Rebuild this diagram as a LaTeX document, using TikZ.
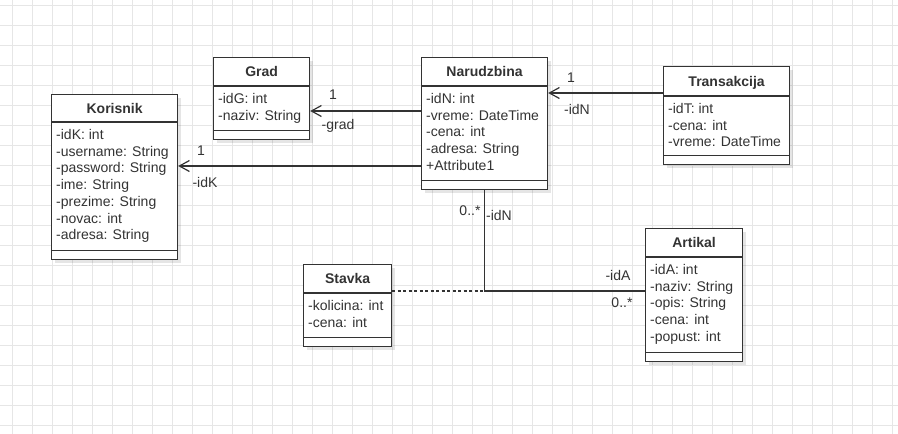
\documentclass[tikz,border=0pt]{standalone}
\usepackage{fontspec}
\setmainfont{Liberation Sans}
\usetikzlibrary{calc,arrows.meta,shadows}
\definecolor{ink}{HTML}{333333}
\definecolor{gridc}{HTML}{E6E6E6}
\tikzset{
  classbox/.style={draw=ink, line width=1.2pt, fill=white, anchor=north west, inner sep=0pt,
    drop shadow={shadow xshift=3pt, shadow yshift=-3pt, fill=black, opacity=0.10}},
  sepline/.style={draw=ink, line width=1.2pt},
  classtitle/.style={anchor=base, inner sep=0pt, text=ink, font=\fontsize{14}{17}\selectfont\bfseries},
  attr/.style={anchor=base west, inner sep=0pt, text=ink, font=\fontsize{14}{17}\selectfont},
  lbl/.style={inner sep=0pt, text=ink, font=\fontsize{14}{17}\selectfont},
  assoc/.style={draw=ink, line width=1.2pt, -{Straight Barb[length=10pt,width=11pt,line width=1.2pt]}},
  plainline/.style={draw=ink, line width=1.2pt},
  dashline/.style={draw=ink, line width=1.2pt, dash pattern=on 3pt off 2.5pt},
}
% #1 name, #2 x, #3 top y, #4 width, #5 height, #6 title height, #7 title, #8 attributes
\newcommand\umlclass[8]{%
  \node[classbox, minimum width=#4pt, minimum height=#5pt] (#1) at (#2,#3) {};
  \node[classtitle] (#1-t) at ($(#1.north)+(0,{#6/2+5})$) {#7};
  \draw[sepline] ($(#1.north west)+(0,#6)$) -- ($(#1.north east)+(0,#6)$);
  \draw[sepline] ($(#1.south west)+(0,-10)$) -- ($(#1.south east)+(0,-10)$);
  \foreach \a [count=\i] in {#8}
    \node[attr] (#1-\i) at ($(#1.north west)+(5,{#6+17.5+(\i-1)*16.7})$) {\a};
}
\begin{document}
\begin{tikzpicture}[x=1pt,y=-1pt]
\useasboundingbox (0,0) rectangle (898,434);
\fill[white] (0,0) rectangle (898,434);
\foreach \gx in {12,32,...,892} \draw[gridc, line width=0.8pt] (\gx,0) -- (\gx,434);
\foreach \gy in {5,25,...,434} \draw[gridc, line width=0.8pt] (0,\gy) -- (898,\gy);

\umlclass{kor}{51}{94}{126}{165}{28}{Korisnik}{-idK: int,-username: String,-password: String,-ime: String,-prezime: String,-novac: int,-adresa: String}
\umlclass{grad}{213}{57}{96}{82}{29}{Grad}{-idG: int,-naziv: String}
\umlclass{nar}{421}{57}{126}{132}{29}{Narudzbina}{-idN: int,-vreme: DateTime,-cena: int,-adresa: String,+Attribute1}
\umlclass{tra}{663}{66}{126}{98}{30}{Transakcija}{-idT: int,-cena: int,-vreme: DateTime}
\umlclass{sta}{303}{264}{88}{82}{29}{Stavka}{-kolicina: int,-cena: int}
\umlclass{art}{645}{228}{97}{133}{29}{Artikal}{-idA: int,-naziv: String,-opis: String,-cena: int,-popust: int}

% connectors
\coordinate (gA) at ($(grad.north east)+(0,54)$);
\draw[assoc] (nar.west |- gA) -- (gA);
\coordinate (kA) at ($(kor.north east)+(0,72)$);
\draw[assoc] (nar.west |- kA) -- (kA);
\coordinate (nA) at ($(nar.north east)+(0,36)$);
\draw[assoc] (tra.west |- nA) -- (nA);
\coordinate (aA) at ($(art.north west)+(0,63)$);
\draw[plainline] (nar.south) |- (aA);
\coordinate (sA) at ($(sta.north east)+(0,27)$);
\coordinate (dEnd) at (563,291);
\draw[dashline] (sA) -- (dEnd);

% labels
\node[lbl] (l1) at (333,95) {1};
\node[lbl] (l2) at (338,126) {-grad};
\node[lbl] (l3) at (201,151) {1};
\node[lbl] (l4) at (205,182) {-idK};
\node[lbl] (l5) at (571,78) {1};
\node[lbl] (l6) at (577,109) {-idN};
\node[lbl] (l7) at (470,211) {0..*};
\node[lbl] (l8) at (499,215) {-idN};
\node[lbl] (l9) at (618,275) {-idA};
\node[lbl] (l10) at (622,303) {0..*};
\end{tikzpicture}
\end{document}
